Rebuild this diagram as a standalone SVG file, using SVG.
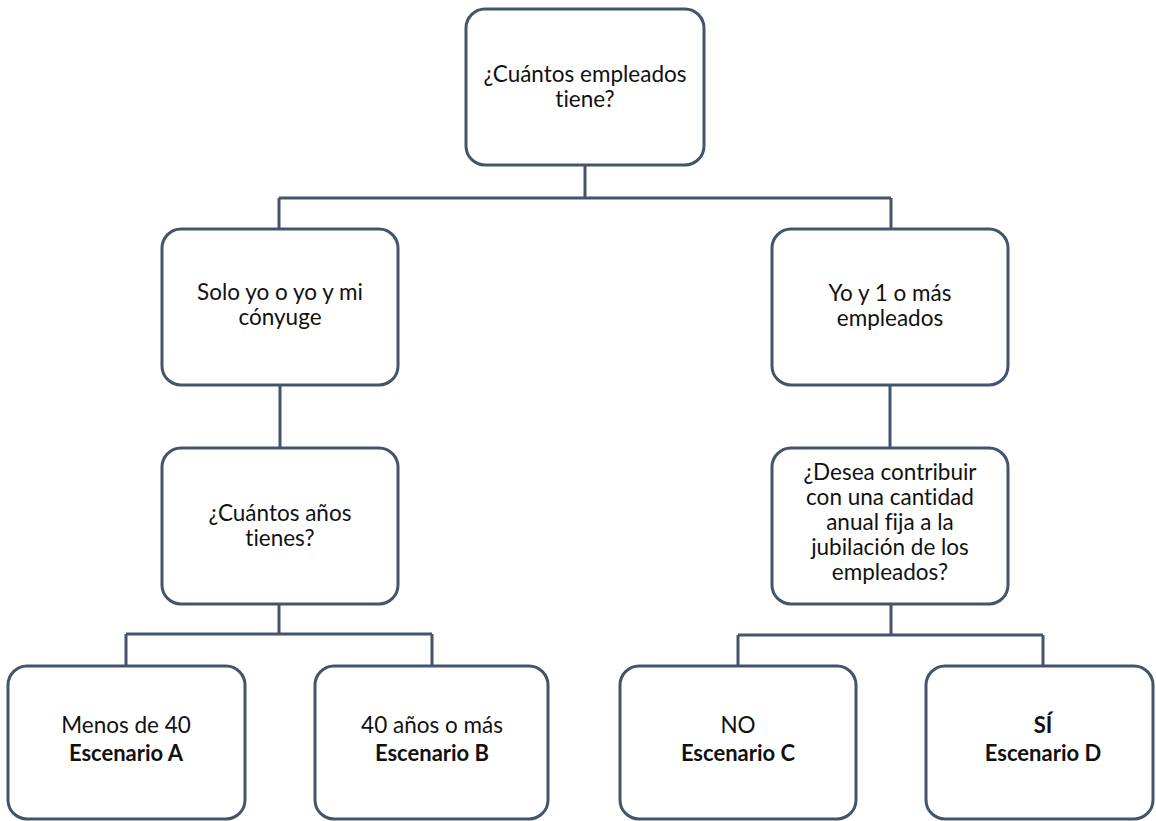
<svg xmlns="http://www.w3.org/2000/svg" width="1156" height="821" viewBox="0 0 1156 821">
<style>
.box{fill:#ffffff;stroke:#44546A;stroke-width:3}
.t{font-family:Lato,"Liberation Sans",sans-serif;font-size:22.5px;fill:#111;text-anchor:middle;font-variant-ligatures:none}
.b{font-weight:bold;font-size:22px}
.c{fill:none;stroke:#44546A;stroke-width:3}
</style>
<rect width="1156" height="821" fill="#ffffff"/>
<g id="connectors">
<path class="c" d="M585 165 V198 M279 198 H891 M279 198 V229 M891 198 V229"/>
<path class="c" d="M280 385 V448 M890 385 V448"/>
<path class="c" d="M279 604 V634 M126 634 H432 M126 634 V666 M432 634 V666"/>
<path class="c" d="M891 604 V635 M738 635 H1043 M738 635 V666 M1043 635 V666"/>
</g>
<g id="n-top">
<rect class="box" x="466" y="9" width="238" height="156" rx="19"/>
<text class="t" x="585" y="82">¿Cuántos empleados</text>
<text class="t" x="585" y="107">tiene?</text>
</g>
<g id="n-solo">
<rect class="box" x="162" y="229" width="236" height="156" rx="19"/>
<text class="t" x="280" y="300">Solo yo o yo y mi</text>
<text class="t" x="280" y="325">cónyuge</text>
</g>
<g id="n-yo">
<rect class="box" x="772" y="229" width="236" height="156" rx="19"/>
<text class="t" x="890" y="301">Yo y 1 o más</text>
<text class="t" x="890" y="326">empleados</text>
</g>
<g id="n-edad">
<rect class="box" x="162" y="448" width="236" height="156" rx="19"/>
<text class="t" x="280" y="521">¿Cuántos años</text>
<text class="t" x="280" y="546">tienes?</text>
</g>
<g id="n-desea">
<rect class="box" x="772" y="448" width="236" height="156" rx="19"/>
<text class="t" x="890" y="480">¿Desea contribuir</text>
<text class="t" x="890" y="505">con una cantidad</text>
<text class="t" x="890" y="530">anual fija a la</text>
<text class="t" x="890" y="555">jubilación de los</text>
<text class="t" x="890" y="580">empleados?</text>
</g>
<g id="n-a">
<rect class="box" x="8" y="666" width="237" height="153" rx="19"/>
<text class="t" x="126" y="733">Menos de 40</text>
<text class="t b" x="126" y="761">Escenario A</text>
</g>
<g id="n-b">
<rect class="box" x="315" y="666" width="233" height="153" rx="19"/>
<text class="t" x="432" y="733">40 años o más</text>
<text class="t b" x="432" y="761">Escenario B</text>
</g>
<g id="n-c">
<rect class="box" x="620" y="666" width="236" height="153" rx="19"/>
<text class="t" x="738" y="733">NO</text>
<text class="t b" x="738" y="761">Escenario C</text>
</g>
<g id="n-d">
<rect class="box" x="926" y="666" width="227" height="153" rx="19"/>
<text class="t b" x="1043" y="733">SÍ</text>
<text class="t b" x="1043" y="761">Escenario D</text>
</g>
</svg>
